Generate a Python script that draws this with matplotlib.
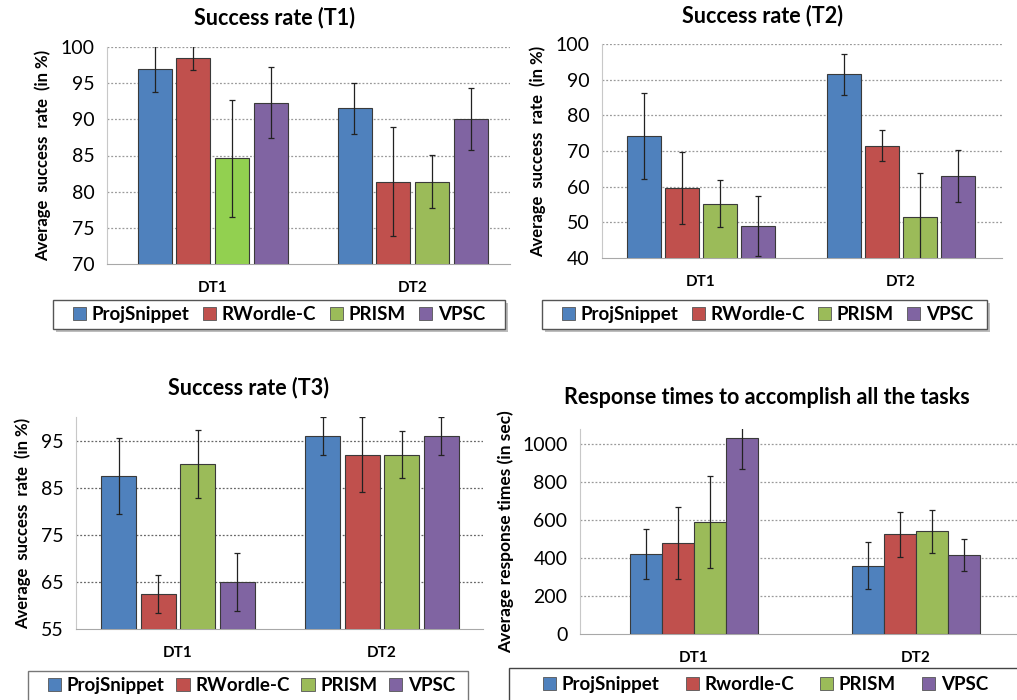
import matplotlib
matplotlib.use("Agg")
import matplotlib.pyplot as plt
import numpy as np
from matplotlib.patches import Patch, Rectangle

plt.rcParams['font.family'] = ['Lato', 'DejaVu Sans']

categories = ["DT1", "DT2"]
methods = ["ProjSnippet", "RWordle-C", "PRISM", "VPSC"]
methods_rt = ["ProjSnippet", "Rwordle-C", "PRISM", "VPSC"]

# Success rate T1 (per method: [DT1, DT2])
t1_mean = {"ProjSnippet": [97.0, 91.5], "RWordle-C": [98.5, 81.4], "PRISM": [84.6, 81.4], "VPSC": [92.3, 90.1]}
t1_err = {"ProjSnippet": [3.2, 3.5], "RWordle-C": [1.7, 7.5], "PRISM": [8.1, 3.7], "VPSC": [4.9, 4.3]}
# Success rate T2
t2_mean = {"ProjSnippet": [74.2, 91.5], "RWordle-C": [59.5, 71.5], "PRISM": [55.2, 51.5], "VPSC": [49.0, 63.0]}
t2_err = {"ProjSnippet": [12.1, 5.7], "RWordle-C": [10.1, 4.4], "PRISM": [6.6, 12.3], "VPSC": [8.3, 7.3]}
# Success rate T3
t3_mean = {"ProjSnippet": [87.5, 96.0], "RWordle-C": [62.5, 92.0], "PRISM": [90.0, 92.0], "VPSC": [65.0, 96.0]}
t3_err = {"ProjSnippet": [8.0, 4.0], "RWordle-C": [4.0, 8.0], "PRISM": [7.2, 5.0], "VPSC": [6.2, 4.0]}
# Response times
rt_mean = {"ProjSnippet": [420, 360], "RWordle-C": [480, 525], "PRISM": [590, 540], "VPSC": [1030, 415]}
rt_err = {"ProjSnippet": [133, 122], "RWordle-C": [188, 118], "PRISM": [240, 115], "VPSC": [160, 85]}

colors = {"ProjSnippet": "#4F81BD", "RWordle-C": "#C0504D", "PRISM": "#9BBB59", "VPSC": "#8064A2"}
t1_prism_dt1_color = "#92D050"

W, H = 1017, 700
fig = plt.figure(figsize=(W / 100, H / 100), dpi=100)


def px_axes(left, right, top, bottom):
    return fig.add_axes([left / W, 1 - bottom / H, (right - left) / W, (bottom - top) / H])


def draw_panel(ax, means, errs, width, step, ylim, yticks, xlim, grid_ticks, special=None,
               grid_color="#9a9a9a"):
    x = np.arange(len(categories))
    n = len(methods)
    for i, m in enumerate(methods):
        off = (i - (n - 1) / 2) * step
        cols = [colors[m]] * len(categories)
        if special and m in special:
            for j, c in special[m].items():
                cols[j] = c
        ax.bar(x + off, means[m], width, color=cols, edgecolor="#3a3a3a", linewidth=0.8, zorder=3)
        ax.errorbar(x + off, means[m], yerr=errs[m], fmt="none", ecolor="#222222",
                    elinewidth=0.9, capsize=2, capthick=0.9, zorder=4)
    ax.set_xlim(*xlim)
    ax.set_ylim(*ylim)
    ax.set_yticks(yticks)
    ax.set_xticks(x)
    ax.set_xticklabels(categories, fontweight="bold", fontsize=11)
    for g in grid_ticks:
        ax.axhline(g, color=grid_color, linestyle=(0, (1.5, 1.5)), linewidth=0.9, zorder=1)
    for s in ["top", "right"]:
        ax.spines[s].set_visible(False)
    ax.spines["left"].set_color("#c8c8c8")
    ax.spines["bottom"].set_color("#a8a8a8")
    ax.tick_params(axis="y", length=0, labelsize=14, pad=9)
    ax.tick_params(axis="x", length=0, pad=12)


def add_legend(labels, frame, entries, shadow=True, edge="#555555"):
    fx0, fy0, fx1, fy1 = frame
    if shadow:
        fig.add_artist(Rectangle(((fx0 + 3) / W, 1 - (fy1 + 3) / H), (fx1 - fx0) / W, (fy1 - fy0) / H,
                                 transform=fig.transFigure, facecolor="#bdbdbd", edgecolor="none", zorder=5))
    fig.add_artist(Rectangle((fx0 / W, 1 - fy1 / H), (fx1 - fx0) / W, (fy1 - fy0) / H,
                             transform=fig.transFigure, facecolor="white", edgecolor=edge,
                             linewidth=1.0, zorder=6))
    ex0, ex1 = entries
    handles = [Patch(facecolor=colors[m], edgecolor="#555555", linewidth=0.6) for m in methods]
    leg = fig.legend(handles, labels, loc="center", ncol=4, mode="expand",
                     bbox_to_anchor=(ex0 / W, 1 - fy1 / H, (ex1 - ex0) / W, (fy1 - fy0) / H),
                     prop={"weight": "bold", "size": 13.5}, frameon=False,
                     handlelength=0.7, handleheight=0.7, handletextpad=0.3,
                     borderpad=0.0, borderaxespad=0.0, columnspacing=0.5)
    leg.set_zorder(7)
    return leg


# Panel 1
ax1 = px_axes(107, 510, 47, 264)
draw_panel(ax1, t1_mean, t1_err, 0.17, 0.195, (70, 100), [70, 75, 80, 85, 90, 95, 100],
           (-0.53, 1.485), [75, 80, 85, 90, 95, 100], special={"PRISM": {0: t1_prism_dt1_color}})
ax1.set_ylabel("Average  success  rate  (in %)", fontweight="bold", fontsize=12, labelpad=7)
fig.text(275 / W, 1 - 18 / H, "Success rate (T1)", ha="center", va="center", fontweight="bold", fontsize=15.5)
add_legend(methods, (53, 300, 505, 329), (73, 485))

# Panel 2
ax2 = px_axes(602, 1002, 44, 258)
draw_panel(ax2, t2_mean, t2_err, 0.17, 0.19, (40, 100), [40, 50, 60, 70, 80, 90, 100],
           (-0.495, 1.505), [50, 60, 70, 80, 90, 100])
ax2.set_ylabel("Average  success  rate  (in %)", fontweight="bold", fontsize=12, labelpad=7)
fig.text(763 / W, 1 - 16 / H, "Success rate (T2)", ha="center", va="center", fontweight="bold", fontsize=15.5)
add_legend(methods, (542, 300, 987, 329), (562, 973))

# Panel 3
ax3 = px_axes(76, 483, 417, 629)
draw_panel(ax3, t3_mean, t3_err, 0.17, 0.194, (55, 100), [55, 65, 75, 85, 95],
           (-0.5, 1.495), [65, 75, 85, 95], grid_color="#666666")
ax3.set_ylabel("Average  success  rate  (in %)", fontweight="bold", fontsize=12, labelpad=7)
fig.text(248 / W, 1 - 388 / H, "Success rate (T3)", ha="center", va="center", fontweight="bold", fontsize=15.5)
add_legend(methods, (28, 671, 468, 701), (48, 455), shadow=False, edge="#777777")

# Panel 4
ax4 = px_axes(580, 1017, 429, 634)
draw_panel(ax4, rt_mean, rt_err, 0.144, 0.144, (0, 1079), [0, 200, 400, 600, 800, 1000],
           (-0.514, 1.455), [200, 400, 600, 800, 1000])
ax4.set_ylabel("Average response times (in sec)", fontweight="bold", fontsize=12.5, labelpad=6)
fig.text(767 / W, 1 - 397 / H, "Response times to accomplish all the tasks", ha="center", va="center",
         fontweight="bold", fontsize=15.5)
add_legend(methods_rt, (509, 668, 1030, 701), (543, 988), shadow=False, edge="#444444")

fig.savefig("out.png", dpi=100)
